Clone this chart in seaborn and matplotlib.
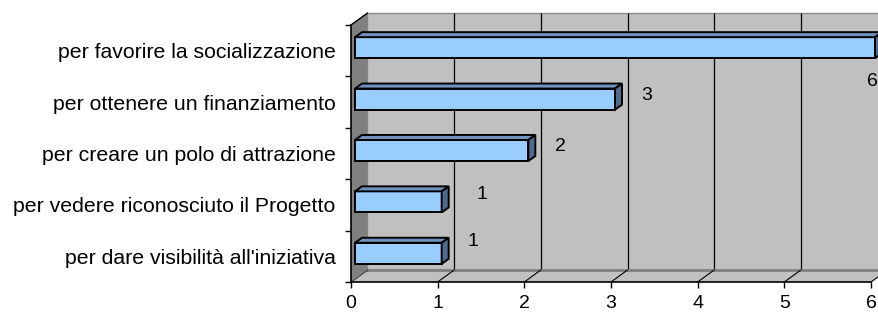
import numpy as np
import matplotlib
matplotlib.use("Agg")
import matplotlib.pyplot as plt
import matplotlib.transforms as mtransforms
from matplotlib.patches import Polygon, Rectangle
import seaborn as sns

categories = [
    "per favorire la socializzazione",
    "per ottenere un finanziamento",
    "per creare un polo di attrazione",
    "per vedere riconosciuto il Progetto",
    "per dare visibilità all'iniziativa",
]
values = [6, 3, 2, 1, 1]
x_ticks = [0, 1, 2, 3, 4, 5, 6]

# Excel places the value labels a bit oddly: offsets in pixels (right, down)
label_offsets = [(1, 31), (36, -7), (36, -7), (44, -10), (35, -15)]

sns.set_style("white")
plt.rcParams["font.family"] = ["Liberation Sans", "DejaVu Sans"]
FS = 15.3
FS_NUM = 14

DPI = 100
fig = plt.figure(figsize=(8.79, 3.15), dpi=DPI)
ax = fig.add_axes([351 / 879, 33 / 315, 520 / 879, 257 / 315])
ax.set_facecolor("none")

px_x = 520 / 6      # pixels per unit on x
px_y = 257 / 5      # pixels per category
wall_dx, wall_dy = 16.5, 12    # depth of the walls, px
bar_dx, bar_dy = 7, 5          # depth of the bars, px

# bars first, so their patches are easy to pick out
sns.barplot(x=values, y=categories, orient="h", width=0.41, color="#99CCFF",
            saturation=1, edgecolor="black", linewidth=1.4, ax=ax, zorder=2)
bars = list(ax.patches)

ax.set_xlim(0, 6)
ax.set_ylim(4.5, -0.5)

wall = mtransforms.ScaledTranslation(wall_dx / DPI, wall_dy / DPI, fig.dpi_scale_trans)
xa = mtransforms.blended_transform_factory(ax.transData, ax.transAxes)
ddx = wall_dx / px_x
ddy = wall_dy / 257

# back wall
ax.add_patch(Rectangle((0, 0), 1, 1, transform=ax.transAxes + wall, facecolor="#C0C0C0",
                       edgecolor="#8C8C8C", lw=1, clip_on=False, zorder=0))
ax.vlines(x_ticks[1:], 0, 1, transform=xa + wall, colors="black", lw=0.9, clip_on=False, zorder=0.5)
# floor
ax.add_patch(Polygon([(0, 0), (1, 0), (1 + ddx / 6, ddy), (ddx / 6, ddy)], closed=True,
                     transform=ax.transAxes, facecolor="#C0C0C0", edgecolor="none",
                     clip_on=False, zorder=0.6))
ax.plot([0, 1 + ddx / 6], [ddy, ddy], transform=ax.transAxes,
        color="#808080", lw=2, clip_on=False, zorder=0.7)
for t in x_ticks:
    ax.plot([t, t + ddx], [0, ddy], transform=xa, color="black", lw=0.8, clip_on=False, zorder=0.8)
# left wall
ax.add_patch(Polygon([(0, 0), (0, 1), (ddx / 6, 1 + ddy), (ddx / 6, ddy)], closed=True,
                     transform=ax.transAxes, facecolor="#808080", edgecolor="none",
                     clip_on=False, zorder=0.9))
ax.plot([0, ddx / 6], [1, 1 + ddy], transform=ax.transAxes, color="black", lw=1,
        clip_on=False, zorder=3)

# 3d faces of the bars
shift = ax.transData + mtransforms.ScaledTranslation(4 / DPI, 3 / DPI, fig.dpi_scale_trans)
bdx = bar_dx / px_x
bdy = bar_dy / px_y
for p in bars:
    p.set_transform(shift)
    p.set_clip_on(False)
    x0, y0 = p.get_x(), p.get_y()
    x1, y1 = x0 + p.get_width(), y0 + p.get_height()
    top = Polygon([(x0, y0), (x1, y0), (x1 + bdx, y0 - bdy), (x0 + bdx, y0 - bdy)], closed=True,
                  facecolor="#6F93BC", edgecolor="black", lw=1.4, transform=shift,
                  clip_on=False, zorder=2)
    side = Polygon([(x1, y0), (x1 + bdx, y0 - bdy), (x1 + bdx, y1 - bdy), (x1, y1)], closed=True,
                   facecolor="#4F6A8C", edgecolor="black", lw=1.4, transform=shift,
                   clip_on=False, zorder=2)
    ax.add_patch(top)
    ax.add_patch(side)

# value labels
for i, v in enumerate(values):
    ox, oy = label_offsets[i]
    ax.annotate(str(v), (v, i), xytext=(ox * 72 / DPI, -oy * 72 / DPI), textcoords="offset points",
                ha="center", va="center", fontsize=FS_NUM, color="black", annotation_clip=False)

# axes
ax.set_xlabel("")
ax.set_ylabel("")
ax.set_xticks(x_ticks)
ax.set_xticklabels([str(t) for t in x_ticks])
ax.set_yticks(range(len(categories)))
ax.set_yticklabels(categories)
ax.set_yticks(np.arange(-0.5, len(categories), 1), minor=True)
ax.tick_params(axis="y", which="major", length=0, pad=11, labelsize=FS, labelcolor="black")
ax.tick_params(axis="y", which="minor", left=True, length=4.3, width=1, color="black")
ax.tick_params(axis="x", which="major", bottom=True, length=4.3, width=1, color="black",
               pad=5, labelsize=FS_NUM, labelcolor="black")
for s in ["top", "right"]:
    ax.spines[s].set_visible(False)
for s in ["left", "bottom"]:
    ax.spines[s].set_color("black")
    ax.spines[s].set_linewidth(1.2)
    ax.spines[s].set_zorder(3)
ax.grid(False)

fig.savefig("out.png", dpi=DPI)
